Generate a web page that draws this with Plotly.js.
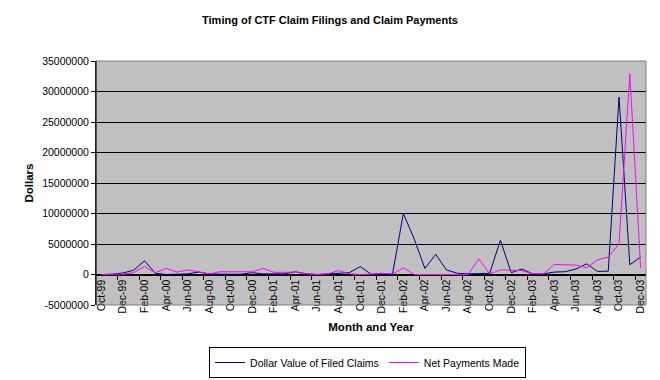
<!DOCTYPE html>
<html>
<head>
<meta charset="utf-8">
<script src="https://cdn.plot.ly/plotly-3.0.1.min.js"></script>
<style>html,body{margin:0;padding:0;background:#fff;}#chart{width:660px;height:380px;}</style>
</head>
<body>
<div id="chart"></div>
<script>
const months = ["Oct-99","Nov-99","Dec-99","Jan-00","Feb-00","Mar-00","Apr-00","May-00","Jun-00","Jul-00","Aug-00","Sep-00",
"Oct-00","Nov-00","Dec-00","Jan-01","Feb-01","Mar-01","Apr-01","May-01","Jun-01","Jul-01","Aug-01","Sep-01",
"Oct-01","Nov-01","Dec-01","Jan-02","Feb-02","Mar-02","Apr-02","May-02","Jun-02","Jul-02","Aug-02","Sep-02",
"Oct-02","Nov-02","Dec-02","Jan-03","Feb-03","Mar-03","Apr-03","May-03","Jun-03","Jul-03","Aug-03","Sep-03",
"Oct-03","Nov-03","Dec-03"];

const filedClaims = [0, 50000, 250000, 700000, 2250000, 200000, 0, 100000, 100000, 400000, 100000, 50000,
50000, 50000, 300000, 100000, 100000, 100000, 450000, 100000, 0, 100000, 250000, 300000,
1300000, 50000, 100000, 100000, 10000000, 5850000, 1000000, 3300000, 750000, 200000, 100000, 100000,
200000, 5600000, 300000, 900000, 100000, 100000, 400000, 450000, 900000, 1750000, 500000, 550000,
29100000, 1600000, 2850000];

const netPayments = [0, 0, 50000, 300000, 1300000, 300000, 1000000, 400000, 750000, 450000, 100000, 450000,
450000, 450000, 450000, 1000000, 350000, 350000, 400000, 100000, 0, 100000, 650000, 100000,
0, 50000, 200000, 50000, 1100000, 0, 0, 0, 0, 0, 0, 2550000,
100000, 750000, 750000, 650000, 100000, 100000, 1650000, 1650000, 1550000, 1100000, 2400000, 2850000,
5000000, 32900000, 1100000];

const yTicks = [-5000000, 0, 5000000, 10000000, 15000000, 20000000, 25000000, 30000000, 35000000];

const idx = months.map((m, i) => i);
const labelVals = idx.filter(i => i % 2 === 0);
const labelText = labelVals.map(i => months[i]);
const boundaryVals = [];
for (let i = 1; i < months.length - 1; i += 2) boundaryVals.push(i + 0.5);

const FONT = "Liberation Sans, Arial, sans-serif";

const traces = [
  {x: idx, y: filedClaims, type: "scatter", mode: "lines", name: "Dollar Value of Filed Claims",
   line: {color: "#000080", width: 1}},
  {x: idx, y: netPayments, type: "scatter", mode: "lines", name: "Net Payments Made",
   line: {color: "#FF00FF", width: 1}}
];

const yMin = -5000000, yMax = 35000000;

const layout = {
  width: 660, height: 380,
  margin: {l: 96, r: 14, t: 61, b: 75, autoexpand: false},
  paper_bgcolor: "#ffffff",
  plot_bgcolor: "#C0C0C0",
  font: {family: FONT, size: 10.5, color: "#000"},
  title: {text: "<b>Timing of CTF Claim Filings and Claim Payments</b>", x: 0.5, xanchor: "center",
          y: 1 - 20/380, yanchor: "middle", font: {family: FONT, size: 11, color: "#000"}},
  showlegend: true,
  legend: {orientation: "h", x: (209-96)/549.7, xanchor: "left", y: (305-347)/244, yanchor: "top",
           bgcolor: "#ffffff", bordercolor: "#000000", borderwidth: 1,
           font: {family: FONT, size: 10.5, color: "#000"}, itemwidth: 30, tracegroupgap: 0},
  xaxis: {
    range: [-0.5, months.length - 0.5],
    anchor: "free", position: (0 - yMin) / (yMax - yMin),
    tickmode: "array", tickvals: labelVals, ticktext: labelText, tickangle: -90,
    ticks: "", showgrid: false, zeroline: false,
    showline: true, linecolor: "#000", linewidth: 1,
    minor: {tickmode: "array", tickvals: boundaryVals, ticks: "outside", ticklen: 4, tickcolor: "#000", showgrid: false},
    tickfont: {family: FONT, size: 10.5, color: "#000"},
    title: {text: "<b>Month and Year</b>", font: {family: FONT, size: 11.5, color: "#000"}, standoff: 10},
    automargin: false, fixedrange: true
  },
  yaxis: {
    range: [yMin, yMax],
    tickmode: "array", tickvals: yTicks, ticktext: yTicks.map(v => String(v)),
    ticks: "outside", ticklen: 4, tickcolor: "#000",
    showgrid: true, gridcolor: "#000", gridwidth: 1,
    zeroline: false, showline: true, linecolor: "#000", linewidth: 1,
    tickfont: {family: FONT, size: 10.5, color: "#000"},
    title: {text: "<b>Dollars</b>", font: {family: FONT, size: 11.5, color: "#000"}, standoff: 6},
    automargin: false, fixedrange: true
  },
  shapes: [
    {type: "rect", xref: "paper", yref: "paper", x0: 0, x1: 1, y0: 0, y1: 1,
     line: {color: "#808080", width: 1}, fillcolor: "rgba(0,0,0,0)", layer: "above"},
    {type: "line", xref: "paper", yref: "paper", x0: 0, x1: 0, y0: 0, y1: 1,
     line: {color: "#000", width: 1}, layer: "above"}
  ]
};

Plotly.newPlot("chart", traces, layout, {displayModeBar: false, staticPlot: true});
</script>
</body>
</html>
